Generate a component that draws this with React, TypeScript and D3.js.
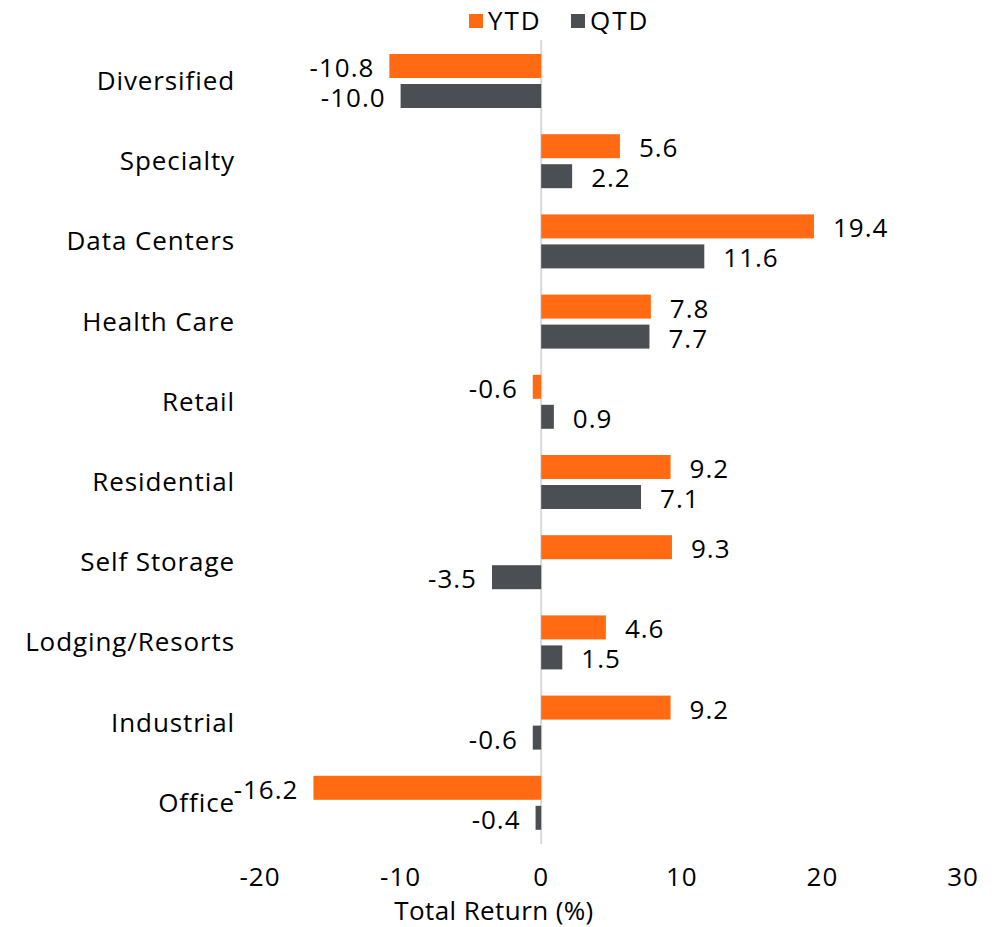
import React from "react";
import * as d3 from "d3";

const categories = [
  "Diversified",
  "Specialty",
  "Data Centers",
  "Health Care",
  "Retail",
  "Residential",
  "Self Storage",
  "Lodging/Resorts",
  "Industrial",
  "Office",
];
const ytd = [-10.8, 5.6, 19.4, 7.8, -0.6, 9.2, 9.3, 4.6, 9.2, -16.2];
const qtd = [-10.0, 2.2, 11.6, 7.7, 0.9, 7.1, -3.5, 1.5, -0.6, -0.4];
const series = ["YTD", "QTD"];
const seriesColors = ["#FF6A13", "#4B4F54"];
const xTicks = [-20, -10, 0, 10, 20, 30];
const axisTitle = "Total Return (%)";

const W = 1007;
const H = 927;
const FONT = "'Open Sans', sans-serif";
const FS = 26;

export default function App() {
  const x = d3.scaleLinear().domain([-20, 30]).range([260, 963]);
  const y = d3.scaleBand<string>().domain(categories).range([42, 844]);
  const ys = d3.scaleBand<string>().domain(series).range([12, 66]).paddingInner(0.2);
  const values = [ytd, qtd];

  return (
    <svg
      width={W}
      height={H}
      style={{ position: "absolute", left: 0, top: 0, background: "#fff" }}
      fontFamily={FONT}
    >
      {/* legend */}
      {series.map((s, i) => {
        const lx = i === 0 ? 469 : 571;
        return (
          <g key={s}>
            <rect x={lx} y={14} width={14} height={14} fill={seriesColors[i]} />
            <text
              x={lx + 19}
              y={20}
              fontSize={FS}
              letterSpacing={2}
              dominantBaseline="central"
              fill="#000"
            >
              {s}
            </text>
          </g>
        );
      })}

      {/* zero line */}
      <line x1={x(0)} x2={x(0)} y1={40} y2={844} stroke="#d9d9d9" strokeWidth={2} />

      {categories.map((c, ci) => {
        const by = y(c)!;
        return (
          <g key={c}>
            <text
              x={235}
              y={by + 38}
              fontSize={FS}
              letterSpacing={0.9}
              textAnchor="end"
              dominantBaseline="central"
              fill="#000"
            >
              {c}
            </text>
            {series.map((s, si) => {
              const v = values[si][ci];
              const yy = by + ys(s)!;
              const bw = ys.bandwidth();
              const x0 = x(Math.min(0, v));
              const x1 = x(Math.max(0, v));
              const neg = v < 0;
              return (
                <g key={s}>
                  <rect x={x0} y={yy} width={x1 - x0} height={bw} fill={seriesColors[si]} />
                  <text
                    x={neg ? x0 - 15 : x1 + 19}
                    y={yy + bw / 2 + 1}
                    fontSize={FS}
                    letterSpacing={1}
                    textAnchor={neg ? "end" : "start"}
                    dominantBaseline="central"
                    fill="#000"
                  >
                    {v.toFixed(1)}
                  </text>
                </g>
              );
            })}
          </g>
        );
      })}

      {/* x axis tick labels */}
      {xTicks.map((t) => (
        <text
          key={t}
          x={x(t)}
          y={876}
          fontSize={FS}
          letterSpacing={1}
          textAnchor="middle"
          dominantBaseline="central"
          fill="#000"
        >
          {t}
        </text>
      ))}
      <text x={494} y={920} fontSize={FS} letterSpacing={0.4} textAnchor="middle" fill="#000">
        {axisTitle}
      </text>
    </svg>
  );
}
